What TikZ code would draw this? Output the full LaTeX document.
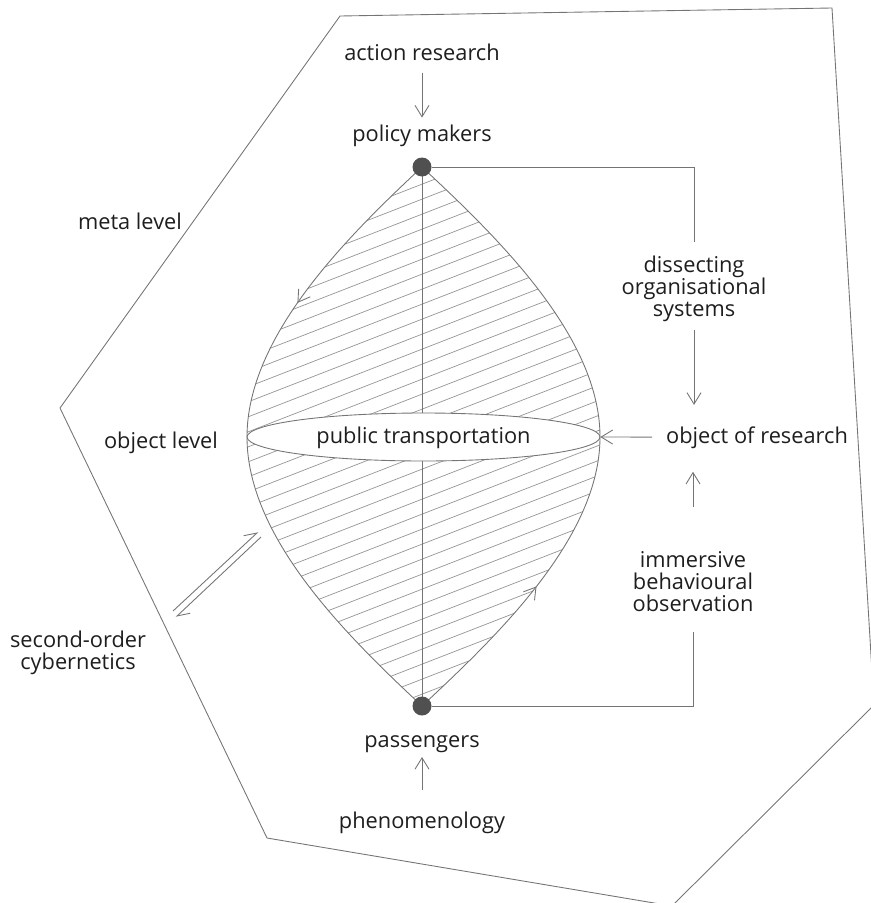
\documentclass[tikz,border=0pt]{standalone}
\usepackage{fontspec}
\setmainfont{Open Sans}
\usetikzlibrary{arrows.meta,decorations.markings,shapes.geometric}
\definecolor{linegray}{HTML}{747474}
\definecolor{hatchgray}{HTML}{959595}
\definecolor{dotgray}{HTML}{505050}
\definecolor{textgray}{HTML}{1E1E1E}
\newcommand\lensoutline{(top) to[out=223,in=90,out distance=2.1cm,in distance=2cm] (ltip)
  to[out=270,in=137,out distance=2cm,in distance=2.1cm] (bottom)
  to[out=43,in=270,out distance=2.1cm,in distance=2cm] (rtip)
  to[out=90,in=-43,out distance=2cm,in distance=2.1cm] (top)}
\begin{document}
\begin{tikzpicture}
[x=0.02cm, y=-0.02cm, font=\fontsize{12.4}{12.5}\selectfont, text=textgray]

\tikzstyle{line}=[draw=linegray, line width=0.5pt]
\tikzstyle{hatch}=[draw=hatchgray, line width=0.4pt]
\tikzstyle{arr}=[line, -{Straight Barb[length=6.5pt, width=8pt]}]
\tikzstyle{harp}=[line, -{Straight Barb[left, length=6.5pt, width=8pt]}]
\tikzstyle{mid}=[line, postaction={decorate}]
\tikzstyle{dot}=[circle, fill=dotgray, inner sep=0mm, minimum size=0.38cm]
\tikzstyle{txt}=[align=center, inner sep=2pt]
\tikzstyle{word}=[inner sep=2pt, anchor=base]

\useasboundingbox (0,0) rectangle (871,903);
\begin{scope}
\clip (0,0) rectangle (871,903);
\draw[line] (340,16) -- (832,8) -- (874,705) -- (672,906) -- (267,838) -- (60,408) -- cycle;
\end{scope}

\coordinate (top)    at (422,167);
\coordinate (bottom) at (422,706);
\coordinate (ltip)   at (247,437);
\coordinate (rtip)   at (600,437);

\begin{scope}
\clip \lensoutline;
\foreach \c in {150,165,...,870} \draw[hatch] (240,\c) -- (610,\c-144);
\end{scope}
\draw[line] (top) -- (bottom);
\draw[mid, decoration={markings, mark=at position 0.28 with {\arrow{Straight Barb[length=6.5pt, width=8pt]}}}]
  (top) to[out=223,in=90,out distance=2.1cm,in distance=2cm] (ltip)
  to[out=270,in=137,out distance=2cm,in distance=2.1cm] (bottom);
\draw[mid, decoration={markings, mark=at position 0.25 with {\arrow{Straight Barb[length=6.5pt, width=8pt]}}}]
  (bottom) to[out=43,in=270,out distance=2.1cm,in distance=2cm] (rtip)
  to[out=90,in=-43,out distance=2cm,in distance=2.1cm] (top);

\node[ellipse, draw=linegray, line width=0.5pt, fill=white, minimum width=7.06cm, minimum height=0.96cm, inner sep=0mm]
  (pt) at (423.5,437) {};
\node[word] (ptlabel) at (423.5,443) {public transportation};
\node[dot] (pm) at (top) {};
\node[dot] (ps) at (bottom) {};

\node[word] (action)  at (422,60)  {action research};
\node[word] (policy)  at (422,141) {policy makers};
\node[word] (pass)    at (422,747) {passengers};
\node[word] (phen)    at (422,828) {phenomenology};
\node[word] (meta)    at (130,229) {meta level};
\node[word] (objlev)  at (161,448) {object level};
\node[word] (objres)  at (757,443) {object of research};
\node[txt]  (dissect) at (694,289) {dissecting\\organisational\\systems};
\node[txt]  (immers)  at (693,582) {immersive\\behavioural\\observation};
\node[txt]  (soc)     at (78,653)  {second-order\\cybernetics};

\draw[arr, shorten <=4.8pt, shorten >=1.7pt] (action) -- (policy);
\draw[arr, shorten <=10pt, shorten >=0.5pt] (phen) -- (pass);
\draw[line, shorten >=5.7pt] (pm) -| (dissect);
\draw[arr, shorten <=2.3pt, shorten >=10pt] (dissect) -- (dissect |- objres.north);
\draw[arr, shorten <=5.7pt] (objres) -- (pt.east);
\draw[line, shorten >=9.3pt] (ps) -| (immers);
\draw[arr, shorten <=23.6pt, shorten >=11.2pt] (immers) -- (immers |- objres.south);

\coordinate (h1) at (173,611);
\coordinate (h2) at (258,532);
\coordinate (h3) at (261,537);
\coordinate (h4) at (176,617);
\draw[harp] (h1) -- (h2);
\draw[harp] (h3) -- (h4);
\end{tikzpicture}
\end{document}
